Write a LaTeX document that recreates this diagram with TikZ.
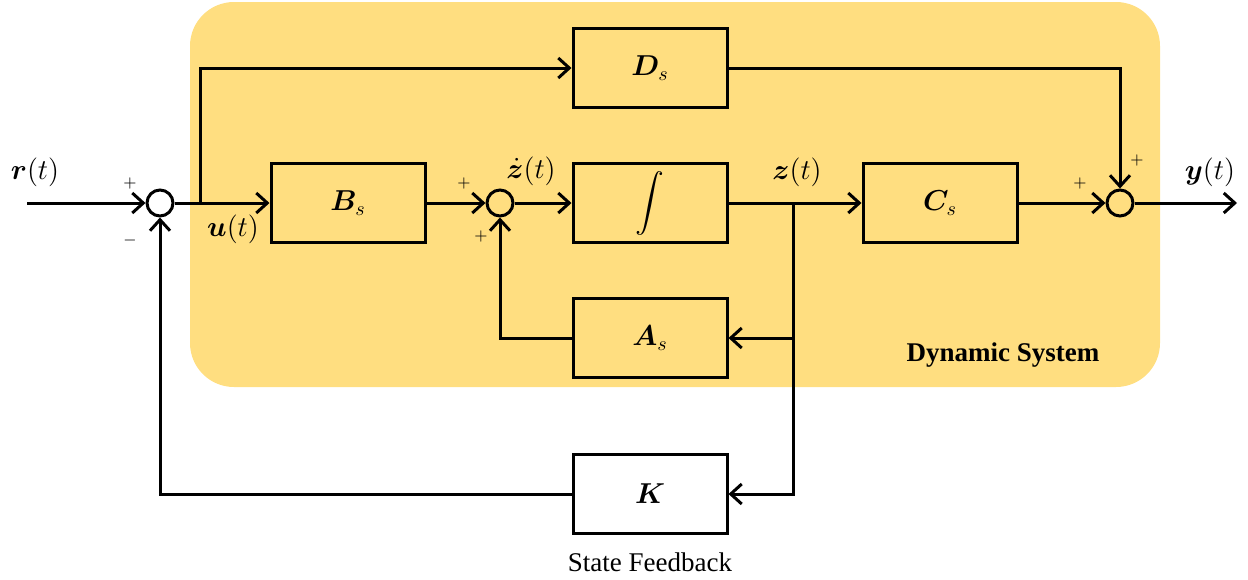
\documentclass[tikz,border=0pt]{standalone}
\usepackage{amsmath,bm}
\usepackage{fontspec}
\setmainfont{Liberation Serif}
\usetikzlibrary{arrows.meta}
\definecolor{sysyellow}{RGB}{255,222,128}
\begin{document}
\begin{tikzpicture}[x=0.5pt,y=-0.5pt,
  blk/.style={draw,line width=1.5pt,minimum width=77pt,minimum height=39.5pt,inner sep=0pt,font=\fontsize{14}{16}\selectfont},
  sumc/.style={draw,circle,line width=1.5pt,minimum size=13pt,inner sep=0pt},
  conn/.style={line width=1.5pt,-{Straight Barb[length=5.5pt,width=10pt,line width=1.5pt]}},
  lbl/.style={font=\fontsize{14}{16}\selectfont,inner sep=0pt},
  sgn/.style={font=\fontsize{8}{9}\selectfont,inner sep=0pt},
  ttl/.style={font=\fontsize{13.5}{16}\selectfont,inner sep=0pt}]
\useasboundingbox (0,0) rectangle (1248,579);
\fill[sysyellow,rounded corners=22pt] (190,2) rectangle (1160,387);

\node[blk] (D) at (650,68) {$\boldsymbol{D}_s$};
\node[blk] (B) at (348,203) {$\boldsymbol{B}_s$};
\node[blk] (I) at (650,203) {$\displaystyle\int$};
\node[blk] (C) at (940,203) {$\boldsymbol{C}_s$};
\node[blk] (A) at (650,338) {$\boldsymbol{A}_s$};
\node[blk,fill=white] (K) at (650,494) {$\boldsymbol{K}$};

\node[sumc] (s1) at (160,203) {};
\node[sumc] (s2) at (500,203) {};
\node[sumc] (s3) at (1120,203) {};

\coordinate (rin) at (27,203);
\coordinate (yout) at (1237,203);
\coordinate (ub) at (200,203);
\coordinate (zb) at (793,203);

\draw[conn] (rin) -- (s1);
\draw[conn] (s1) -- (B);
\draw[conn] (ub) |- (D);
\draw[conn] (B) -- (s2);
\draw[conn] (s2) -- (I);
\draw[conn] (I) -- (C);
\draw[conn] (C) -- (s3);
\draw[conn] (D) -| (s3);
\draw[conn] (s3) -- (yout);
\draw[conn] (zb) |- (A);
\draw[conn] (zb) |- (K);
\draw[conn] (A) -| (s2);
\draw[conn] (K) -| (s1);

\node[lbl] (lr) at (35,172) {$\boldsymbol{r}(t)$};
\node[lbl] (lu) at (233,229) {$\boldsymbol{u}(t)$};
\node[lbl] (lzd) at (531,171) {$\dot{\boldsymbol{z}}(t)$};
\node[lbl] (lz) at (797,172) {$\boldsymbol{z}(t)$};
\node[lbl] (ly) at (1210,172) {$\boldsymbol{y}(t)$};

\node[sgn] (p1) at (130,183) {$+$};
\node[sgn] (m1) at (130,240) {$-$};
\node[sgn] (p2) at (464,183) {$+$};
\node[sgn] (p3) at (481,236) {$+$};
\node[sgn] (p4) at (1080,183) {$+$};
\node[sgn] (p5) at (1137,160) {$+$};

\node[ttl] (dyn) at (1003,355) {\textbf{Dynamic System}};
\node[ttl] (sf) at (650,562) {State Feedback};
\end{tikzpicture}
\end{document}
